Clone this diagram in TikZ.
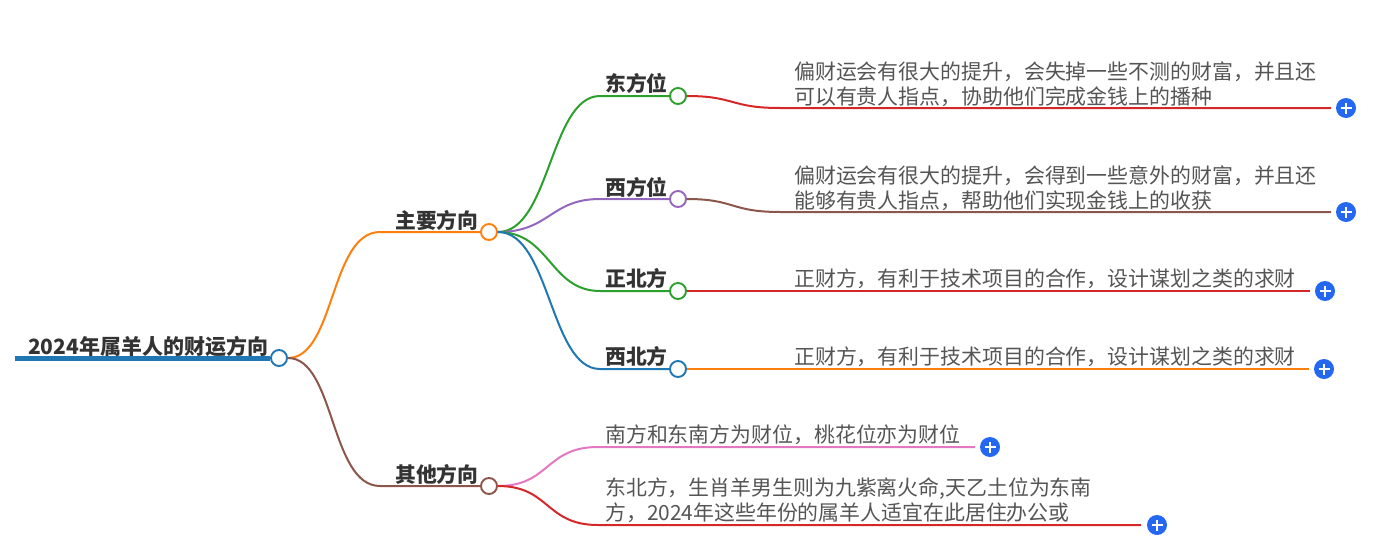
\documentclass[tikz,border=0pt]{standalone}
\usepackage{fontspec}
\setmainfont{Noto Sans CJK SC}
\definecolor{cblue}{HTML}{1F77B4}
\definecolor{corange}{HTML}{FF7F0E}
\definecolor{cbrown}{HTML}{8C564B}
\definecolor{cgreen}{HTML}{2CA02C}
\definecolor{cpurple}{HTML}{9467BD}
\definecolor{cred}{HTML}{D62728}
\definecolor{cpink}{HTML}{E377C2}
\definecolor{btnblue}{HTML}{2468F2}
\definecolor{lbl}{HTML}{333333}
\definecolor{leaftxt}{HTML}{555555}
\tikzset{
  dot/.style={circle,draw=#1,fill=white,line width=1.9pt,minimum size=16pt,inner sep=0pt},
  branch/.style={draw=#1,line width=2pt},
  lbltext/.style={anchor=west,inner sep=0pt,text=lbl,font=\fontsize{20.8}{24}\selectfont\bfseries},
  leaftext/.style={anchor=west,inner sep=0pt,text=leaftxt,align=left,font=\fontsize{20.9}{25}\selectfont},
  plusbtn/.style={circle,fill=btnblue,minimum size=20pt,inner sep=0pt,
    path picture={\draw[white,line width=1.8pt] ([xshift=-5.5pt]path picture bounding box.center) -- ([xshift=5.5pt]path picture bounding box.center);
      \draw[white,line width=1.8pt] ([yshift=-5.5pt]path picture bounding box.center) -- ([yshift=5.5pt]path picture bounding box.center);}}
}
\begin{document}
\begin{tikzpicture}[x=1pt,y=-1pt]
\useasboundingbox (0,0) rectangle (1381,549);
% root
\coordinate (r0) at (15,358);
\node[dot=cblue] (c0) at (279,358) {};
\draw[cblue,line width=5pt] (r0) -- (c0.west);
\node[lbltext,font=\fontsize{21}{24}\selectfont\bfseries] (t0) at (28,346) {2024年属羊人的财运方向};
% level 1
\node[dot=corange] (c1) at (489,232) {};
\node[dot=cbrown] (c2) at (489,486) {};
\coordinate (a1) at (380,232);
\coordinate (a2) at (380,486);
\draw[branch=corange] (c0.east) .. controls (335,358) and (330,232) .. (a1) -- (c1.west);
\draw[branch=cbrown] (c0.east) .. controls (335,358) and (330,486) .. (a2) -- (c2.west);
\node[lbltext] (t1) at (395,220) {主要方向};
\node[lbltext] (t2) at (395,474) {其他方向};
% level 2
\node[dot=cgreen] (e1) at (678,96) {};
\node[dot=cpurple] (e2) at (678,199) {};
\node[dot=cgreen] (e3) at (678,291) {};
\node[dot=cblue] (e4) at (678,369) {};
\coordinate (b1) at (600,96);
\coordinate (b2) at (600,199);
\coordinate (b3) at (600,291);
\coordinate (b4) at (600,369);
\draw[branch=cgreen] (c1.east) .. controls (550,232) and (550,96) .. (b1) -- (e1.west);
\draw[branch=cpurple] (c1.east) .. controls (550,232) and (550,199) .. (b2) -- (e2.west);
\draw[branch=cgreen] (c1.east) .. controls (550,232) and (550,291) .. (b3) -- (e3.west);
\draw[branch=cblue] (c1.east) .. controls (550,232) and (550,369) .. (b4) -- (e4.west);
\node[lbltext] (l1) at (605,83) {东方位};
\node[lbltext] (l2) at (605,187) {西方位};
\node[lbltext] (l3) at (605,278) {正北方};
\node[lbltext] (l4) at (605,356) {西北方};
% leaves of main
\node[plusbtn] (p1) at (1346,108) {};
\node[plusbtn] (p2) at (1346,212) {};
\node[plusbtn] (p3) at (1325,291) {};
\node[plusbtn] (p4) at (1324,369) {};
\coordinate (d1) at (780,108);
\coordinate (d2) at (780,212);
\coordinate (q1) at (1331,108);
\coordinate (q2) at (1331,212);
\coordinate (q3) at (1310,291);
\coordinate (q4) at (1309,369);
\draw[branch=cred] (e1.east) .. controls (735,96) and (730,108) .. (d1) -- (q1);
\draw[branch=cbrown] (e2.east) .. controls (735,199) and (730,212) .. (d2) -- (q2);
\draw[branch=cred] (e3.east) -- (q3);
\draw[branch=corange] (e4.east) -- (q4);
\node[leaftext] (f1) at (794,84) {偏财运会有很大的提升，会失掉一些不测的财富，并且还\\可以有贵人指点，协助他们完成金钱上的播种};
\node[leaftext] (f2) at (794,188) {偏财运会有很大的提升，会得到一些意外的财富，并且还\\能够有贵人指点，帮助他们实现金钱上的收获};
\node[leaftext] (f3) at (794,279) {正财方，有利于技术项目的合作，设计谋划之类的求财};
\node[leaftext] (f4) at (794,357) {正财方，有利于技术项目的合作，设计谋划之类的求财};
% leaves of other
\node[plusbtn] (p5) at (990,447) {};
\node[plusbtn] (p6) at (1157,525) {};
\coordinate (g5) at (598,447);
\coordinate (g6) at (598,525);
\coordinate (q5) at (975,447);
\coordinate (q6) at (1141,525);
\draw[branch=cpink] (c2.east) .. controls (550,486) and (545,447) .. (g5) -- (q5);
\draw[branch=cred] (c2.east) .. controls (550,486) and (545,525) .. (g6) -- (q6);
\node[leaftext] (f5) at (605,435) {南方和东南方为财位，桃花位亦为财位};
\node[leaftext] (f6) at (605,500) {东北方，生肖羊男生则为九紫离火命,天乙土位为东南\\方，2024年这些年份的属羊人适宜在此居住办公或};
\end{tikzpicture}
\end{document}
